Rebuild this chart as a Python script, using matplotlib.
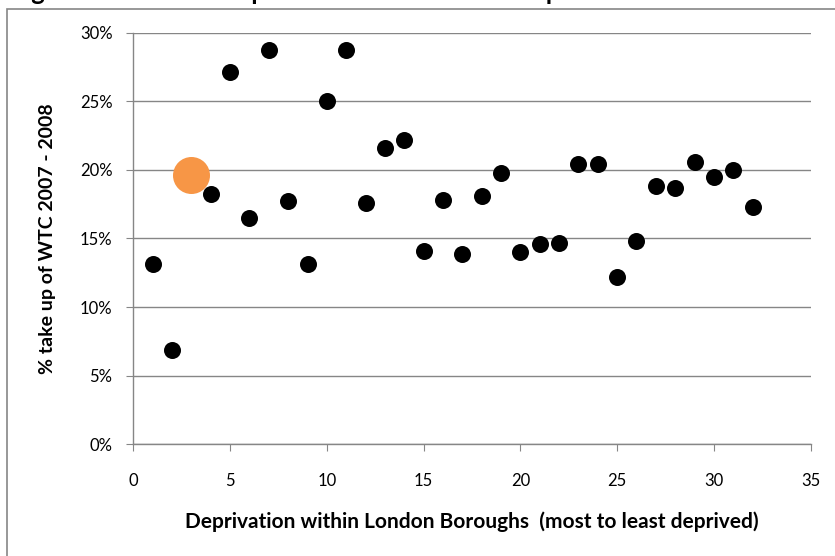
import matplotlib
matplotlib.use("Agg")
import matplotlib.pyplot as plt
from matplotlib.patches import Rectangle
from matplotlib.ticker import FuncFormatter

plt.rcParams['font.family'] = ['Lato', 'DejaVu Sans']

# rank of borough by deprivation (1 = most deprived) and WTC take up (%)
rank = list(range(1, 33))
takeup = [13.1, 6.9, 19.6, 18.2, 27.1, 16.5, 28.7, 17.7, 13.1, 25.0,
          28.7, 17.6, 21.6, 22.2, 14.1, 17.8, 13.9, 18.1, 19.8, 14.0,
          14.6, 14.7, 20.4, 20.4, 12.2, 14.8, 18.8, 18.7, 20.6, 19.5,
          20.0, 17.3]
highlight = 3  # the borough picked out in orange

grey = '#868686'

fig = plt.figure(figsize=(8.35, 5.56), dpi=100)
ax = fig.add_axes([0.1597, 0.2009, 0.8111, 0.7406])

# outer chart frame (runs off the right and bottom of the picture)
fig.patches.append(Rectangle((7 / 835, -0.1), 1.2, 1 - 9 / 556 + 0.1,
                             transform=fig.transFigure, fill=False,
                             edgecolor=grey, linewidth=1.2))
# caption above the chart, almost all of it cut off by the top edge
fig.text(10 / 835, 1 - 4 / 556, 'Figure 11: Income deprivation and WTC take up',
         fontsize=18.5, fontweight='bold', va='bottom', ha='left')

bx = [r for r in rank if r != highlight]
by = [t for r, t in zip(rank, takeup) if r != highlight]
hx = [r for r in rank if r == highlight]
hy = [t for r, t in zip(rank, takeup) if r == highlight]

ax.scatter(bx, by, s=150, color='black', linewidths=0, zorder=3)
ax.scatter(hx, hy, s=710, color='#F79646', linewidths=0, zorder=3)

ax.set_xlim(0, 35)
ax.set_ylim(0, 30)
ax.set_xticks(range(0, 36, 5))
ax.set_yticks(range(0, 31, 5))
ax.yaxis.set_major_formatter(FuncFormatter(lambda v, p: '%d%%' % v))
ax.grid(axis='y', color=grey, linewidth=1.0)
ax.set_axisbelow(True)

for s in ['top', 'right']:
    ax.spines[s].set_visible(False)
for s in ['left', 'bottom']:
    ax.spines[s].set_color(grey)
    ax.spines[s].set_linewidth(1.0)
ax.tick_params(direction='out', length=5, color=grey, labelsize=12)
ax.tick_params(axis='x', pad=16)
ax.tick_params(axis='y', pad=10)

ax.set_xlabel('Deprivation within London Boroughs  (most to least deprived)',
              fontsize=15, fontweight='bold', labelpad=16)
ax.set_ylabel('% take up of WTC 2007 - 2008', fontsize=14, fontweight='bold',
              labelpad=17)

fig.savefig('out.png', dpi=100)
